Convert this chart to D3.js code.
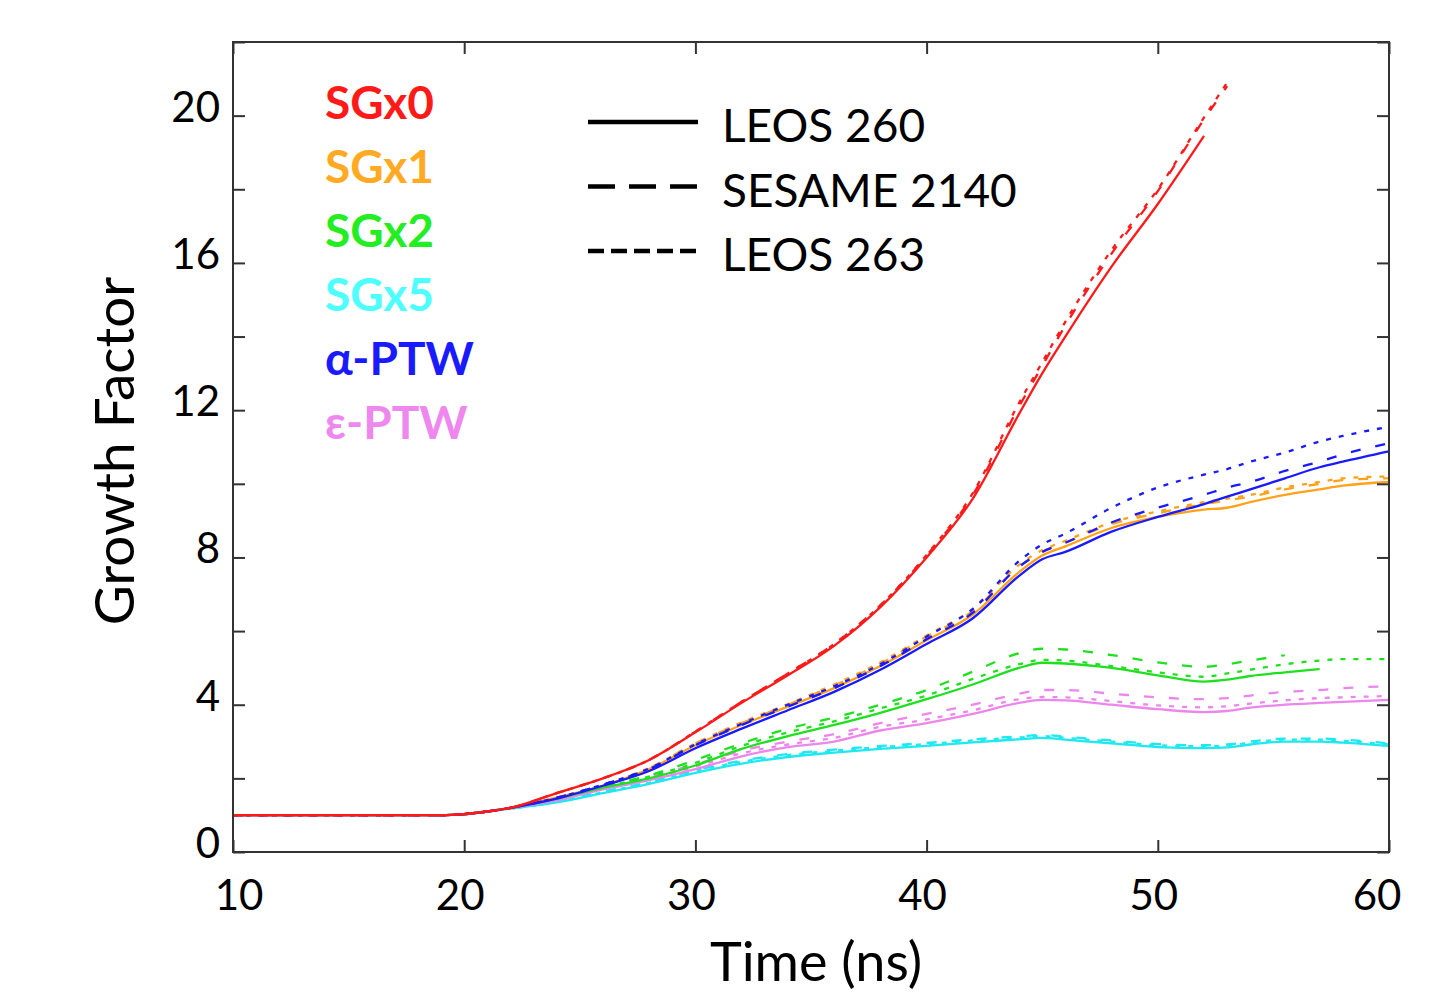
<!DOCTYPE html>
<html>
<head>
<meta charset="utf-8">
<script src="https://cdn.jsdelivr.net/npm/d3@7"></script>
<style>
  html, body { margin: 0; padding: 0; background: #fff; }
  svg { display: block; font-family: Lato, "Open Sans", sans-serif; }
</style>
</head>
<body>
<svg id="chart" width="1439" height="995"></svg>
<script>
// Time grid (ns) shared by all series; null marks where a run stopped.
const timeNs = [10, 19, 20, 21, 22, 24, 26, 28, 30, 32, 34, 36, 38, 40, 42, 44, 45, 46, 48, 50, 52, 53, 54, 55.5, 57, 58, 60];

// Growth factor per strength model and equation of state
const sgx0_leos260   = [1, 1, 1.03, 1.1, 1.2, 1.6, 2.0, 2.5, 3.25, 4.05, 4.8, 5.6, 6.65, 8.0, 9.6, 11.9, 13.0, 14.0, 15.9, 17.6, 19.45, null, null, null, null, null, null];
const sgx0_sesame    = [1, 1, 1.03, 1.1, 1.2, 1.6, 2.0, 2.5, 3.27, 4.08, 4.85, 5.65, 6.7, 8.05, 9.7, 12.1, 13.2, 14.3, 16.25, 17.95, 19.9, 20.8, null, null, null, null, null];
const sgx0_leos263   = [1, 1, 1.03, 1.1, 1.2, 1.6, 2.0, 2.5, 3.27, 4.08, 4.85, 5.65, 6.7, 8.07, 9.75, 12.2, 13.3, 14.4, 16.35, 18.0, 19.95, 20.9, null, null, null, null, null];

const sgx1_leos260   = [1, 1, 1.03, 1.1, 1.2, 1.48, 1.8, 2.25, 2.9, 3.45, 3.95, 4.45, 5.05, 5.75, 6.45, 7.6, 8.05, 8.3, 8.8, 9.1, 9.3, 9.35, 9.5, 9.7, 9.85, 9.95, 10.05];
const sgx1_sesame    = [1, 1, 1.03, 1.1, 1.2, 1.48, 1.82, 2.28, 2.95, 3.5, 4.0, 4.52, 5.12, 5.85, 6.55, 7.75, 8.15, 8.4, 8.9, 9.2, 9.45, 9.55, 9.65, 9.85, 10.0, 10.1, 10.15];
const sgx1_leos263   = [1, 1, 1.03, 1.1, 1.2, 1.48, 1.82, 2.28, 2.95, 3.52, 4.02, 4.55, 5.15, 5.88, 6.6, 7.8, 8.2, 8.45, 8.95, 9.25, 9.5, 9.6, 9.7, 9.9, 10.05, 10.15, 10.2];

const sgx2_leos260   = [1, 1, 1.03, 1.1, 1.2, 1.45, 1.75, 2.0, 2.35, 2.8, 3.15, 3.45, 3.78, 4.15, 4.55, 5.0, 5.14, 5.12, 5.0, 4.8, 4.63, 4.68, 4.78, 4.88, 4.97, null, null];
const sgx2_sesame    = [1, 1, 1.03, 1.1, 1.2, 1.45, 1.78, 2.08, 2.5, 2.95, 3.35, 3.65, 4.0, 4.4, 4.9, 5.4, 5.52, 5.5, 5.35, 5.15, 5.03, 5.1, 5.2, 5.35, null, null, null];
const sgx2_leos263   = [1, 1, 1.03, 1.1, 1.2, 1.45, 1.76, 2.05, 2.42, 2.88, 3.25, 3.55, 3.9, 4.25, 4.7, 5.1, 5.22, 5.2, 5.05, 4.88, 4.76, 4.85, 4.95, 5.1, 5.2, 5.24, 5.24];

const sgx5_leos260   = [1, 1, 1.03, 1.1, 1.18, 1.35, 1.6, 1.85, 2.15, 2.4, 2.58, 2.7, 2.8, 2.88, 2.98, 3.06, 3.1, 3.05, 2.95, 2.85, 2.82, 2.84, 2.92, 3.0, 3.0, 2.97, 2.88];
const sgx5_sesame    = [1, 1, 1.03, 1.1, 1.18, 1.37, 1.64, 1.9, 2.22, 2.48, 2.66, 2.78, 2.88, 2.96, 3.06, 3.14, 3.18, 3.13, 3.03, 2.93, 2.9, 2.92, 3.0, 3.08, 3.08, 3.05, 2.95];
const sgx5_leos263   = [1, 1, 1.03, 1.1, 1.18, 1.36, 1.62, 1.88, 2.2, 2.45, 2.63, 2.75, 2.85, 2.93, 3.03, 3.11, 3.15, 3.1, 3.0, 2.9, 2.87, 2.89, 2.97, 3.05, 3.05, 3.02, 2.92];

const aptw_leos260   = [1, 1, 1.03, 1.1, 1.2, 1.45, 1.8, 2.2, 2.82, 3.35, 3.85, 4.35, 4.95, 5.65, 6.35, 7.5, 7.95, 8.15, 8.7, 9.1, 9.45, 9.65, 9.85, 10.15, 10.45, 10.6, 10.88];
const aptw_sesame    = [1, 1, 1.03, 1.1, 1.2, 1.47, 1.83, 2.25, 2.9, 3.45, 3.95, 4.45, 5.05, 5.78, 6.5, 7.75, 8.15, 8.4, 8.95, 9.35, 9.7, 9.9, 10.05, 10.35, 10.6, 10.8, 11.1];
const aptw_leos263   = [1, 1, 1.03, 1.1, 1.2, 1.47, 1.83, 2.27, 2.92, 3.48, 4.0, 4.5, 5.1, 5.85, 6.6, 7.9, 8.35, 8.65, 9.35, 9.9, 10.25, 10.4, 10.6, 10.85, 11.15, 11.3, 11.55];

const eptw_leos260   = [1, 1, 1.03, 1.1, 1.19, 1.4, 1.7, 1.95, 2.25, 2.6, 2.85, 3.0, 3.3, 3.5, 3.75, 4.05, 4.13, 4.12, 4.0, 3.88, 3.8, 3.83, 3.92, 4.0, 4.05, 4.08, 4.13];
const eptw_sesame    = [1, 1, 1.03, 1.1, 1.19, 1.43, 1.76, 2.05, 2.38, 2.75, 3.0, 3.2, 3.5, 3.75, 4.0, 4.3, 4.4, 4.4, 4.3, 4.2, 4.15, 4.18, 4.25, 4.35, 4.4, 4.45, 4.5];
const eptw_leos263   = [1, 1, 1.03, 1.1, 1.19, 1.42, 1.73, 2.0, 2.32, 2.68, 2.92, 3.1, 3.4, 3.6, 3.85, 4.15, 4.21, 4.2, 4.1, 3.98, 3.93, 3.96, 4.03, 4.12, 4.18, 4.2, 4.24];

// Strength models (legend order) and equations of state
const modelNames  = ["SGx0", "SGx1", "SGx2", "SGx5", "α-PTW", "ε-PTW"];
const modelColors = ["#ff1a1a", "#ffaa22", "#22ee22", "#4dffff", "#1a1aff", "#ee88ee"];
const lineColors  = ["#ff1a1a", "#ffa21a", "#1fe01f", "#1ee8f0", "#1a1aff", "#ec86ec"];
const eosNames    = ["LEOS 260", "SESAME 2140", "LEOS 263"];
const eosDash     = [null, "10,15", "5,8"];
const legendDash  = [null, "27,14", "16,7"];

const seriesValues = [
  [sgx0_leos260, sgx0_sesame, sgx0_leos263],
  [sgx1_leos260, sgx1_sesame, sgx1_leos263],
  [sgx2_leos260, sgx2_sesame, sgx2_leos263],
  [sgx5_leos260, sgx5_sesame, sgx5_leos263],
  [aptw_leos260, aptw_sesame, aptw_leos263],
  [eptw_leos260, eptw_sesame, eptw_leos263]
];

const xTicks = [10, 20, 30, 40, 50, 60];
const yLabelTicks = [0, 4, 8, 12, 16, 20];
const yAllTicks = d3.range(0, 23, 2);

const svg = d3.select("#chart");
const plotLeft = 233, plotRight = 1389, plotTop = 42, plotBottom = 852;

const x = d3.scaleLinear().domain([10, 60]).range([plotLeft, plotRight]);
const y = d3.scaleLinear().domain([0, 22]).range([plotBottom, plotTop]);

const frameColor = "#333";

// Data lines
const line = d3.line()
  .defined(d => d[1] != null)
  .x(d => x(d[0]))
  .y(d => y(d[1]))
  .curve(d3.curveMonotoneX);

const plot = svg.append("g");
// draw lower-priority models first so the red/blue curves sit on top
const drawOrder = [3, 5, 2, 1, 4, 0];
drawOrder.forEach(mi => {
  seriesValues[mi].forEach((vals, ei) => {
    const pts = timeNs.map((t, i) => [t, vals[i]]);
    plot.append("path")
      .attr("d", line(pts))
      .attr("fill", "none")
      .attr("stroke", lineColors[mi])
      .attr("stroke-width", 2.3)
      .attr("stroke-dasharray", eosDash[ei])
      .attr("stroke-linejoin", "round");
  });
});

// Frame
svg.append("rect")
  .attr("x", plotLeft).attr("y", plotTop)
  .attr("width", plotRight - plotLeft).attr("height", plotBottom - plotTop)
  .attr("fill", "none").attr("stroke", frameColor).attr("stroke-width", 2);

// Axes with inward ticks
const tickLen = 12;
function styleTicks(g) {
  g.select(".domain").remove();
  g.selectAll("line").attr("stroke", frameColor).attr("stroke-width", 2);
}
svg.append("g")
  .attr("transform", `translate(0,${plotBottom})`)
  .call(d3.axisBottom(x).tickValues(xTicks).tickSize(-tickLen).tickFormat(""))
  .call(styleTicks);
svg.append("g")
  .attr("transform", `translate(0,${plotTop})`)
  .call(d3.axisTop(x).tickValues(xTicks).tickSize(-tickLen).tickFormat(""))
  .call(styleTicks);
svg.append("g")
  .attr("transform", `translate(${plotLeft},0)`)
  .call(d3.axisLeft(y).tickValues(yAllTicks).tickSize(-tickLen).tickFormat(""))
  .call(styleTicks);
svg.append("g")
  .attr("transform", `translate(${plotRight},0)`)
  .call(d3.axisRight(y).tickValues(yAllTicks).tickSize(-tickLen).tickFormat(""))
  .call(styleTicks);

// Tick labels (the outermost ones are pulled inward a little)
svg.append("g").selectAll("text").data(xTicks).join("text")
  .attr("x", d => x(d) + (d === 10 ? 6 : d === 60 ? -12 : -4)).attr("y", 910)
  .attr("text-anchor", "middle")
  .attr("font-size", 42).attr("fill", "#000")
  .text(d => d);
svg.append("g").selectAll("text").data(yLabelTicks).join("text")
  .attr("x", 220).attr("y", d => y(d) + 6)
  .attr("text-anchor", "end")
  .attr("font-size", 42).attr("fill", "#000")
  .text(d => d);

// Axis titles
svg.append("text")
  .attr("x", 816).attr("y", 981)
  .attr("text-anchor", "middle")
  .attr("font-size", 54).attr("fill", "#000")
  .text("Time (ns)");
svg.append("text")
  .attr("transform", "translate(134,451) rotate(-90)")
  .attr("text-anchor", "middle")
  .attr("font-size", 55).attr("fill", "#000")
  .text("Growth Factor");

// Model legend (coloured labels)
svg.append("g").selectAll("text").data(modelNames).join("text")
  .attr("x", 325).attr("y", (d, i) => 119 + i * 64)
  .attr("font-size", 46).attr("font-weight", "bold")
  .attr("fill", (d, i) => modelColors[i])
  .text(d => d);

// Equation-of-state legend (line styles)
const eosLegend = svg.append("g");
eosNames.forEach((name, i) => {
  const yy = 122 + i * 64.5;
  eosLegend.append("line")
    .attr("x1", 588).attr("x2", 698).attr("y1", yy).attr("y2", yy)
    .attr("stroke", "#000").attr("stroke-width", 4.5)
    .attr("stroke-dasharray", legendDash[i]);
  eosLegend.append("text")
    .attr("x", 722).attr("y", yy + 20)
    .attr("font-size", 46).attr("fill", "#000")
    .text(name);
});
</script>
</body>
</html>
